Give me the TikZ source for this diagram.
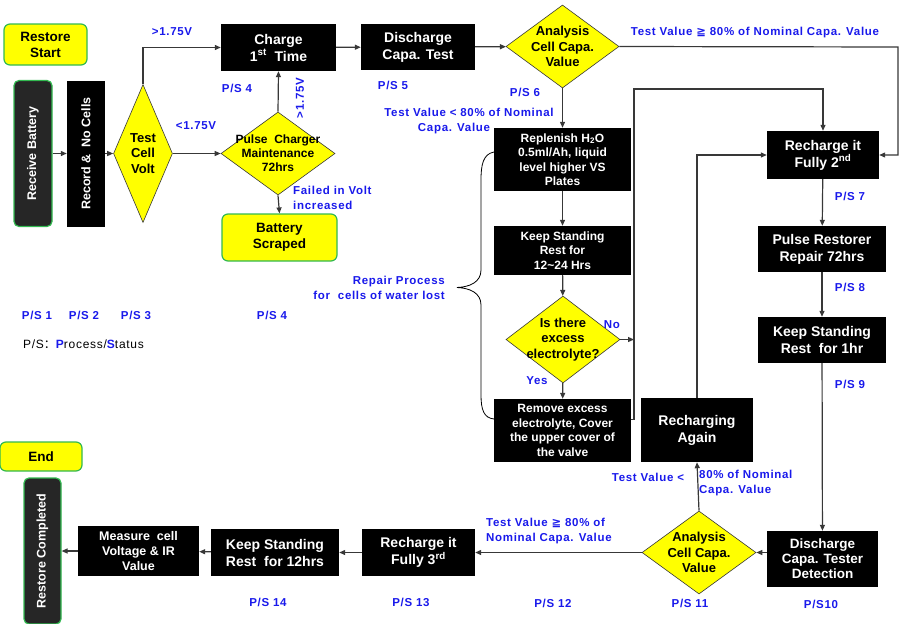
\documentclass[tikz,border=0pt]{standalone}
\usepackage{fontspec}
\setmainfont{Liberation Sans}
\newfontfamily\symfont{DejaVu Sans}
\newfontfamily\cjkfont{Noto Sans CJK SC}
\newfontfamily\lblfont{Liberation Sans}[LetterSpace=6.0]
\usetikzlibrary{shapes, positioning, arrows.meta, calc}
\colorlet{drawColor}{black!78}
\definecolor{psBlue}{RGB}{25,25,235}
\definecolor{fYellow}{RGB}{255,255,0}
\definecolor{fGreen}{RGB}{50,185,80}
\tikzstyle{fProcess}=[rectangle, fill=black, text=white, align=center, inner sep=0pt,
font=\bfseries\fontsize{14}{17}\selectfont]
\tikzstyle{fSmall}=[font=\bfseries\fontsize{12}{14.5}\selectfont]
\tikzstyle{fStartEnd}=[rectangle, rounded corners=6pt, fill=fYellow, draw=fGreen, line width=1.2pt,
align=center, inner sep=0pt, font=\bfseries\fontsize{13.5}{16}\selectfont]
\tikzstyle{fTerminal}=[rectangle, rounded corners=5pt, fill=black!85, draw=fGreen, line width=1.2pt,
text=white, inner sep=0pt, font=\bfseries\fontsize{12.5}{15}\selectfont]
\tikzstyle{fDecision}=[diamond, fill=fYellow, draw=drawColor, line width=0.6pt, inner sep=0pt]
\tikzstyle{dText}=[align=center, inner sep=0pt, font=\bfseries\fontsize{13}{15.5}\selectfont]
\tikzstyle{fLabel}=[text=psBlue, inner sep=0pt, font=\lblfont\bfseries\fontsize{11.5}{15}\selectfont]
\tikzstyle{arrow}=[-{Triangle[length=6pt,width=5pt]}, line width=1.2pt, draw=drawColor]

\begin{document}
\begin{tikzpicture}[x=1pt, y=-1pt]
  \useasboundingbox (0,0) rectangle (900,624);
  % left column
  \node(start) [fStartEnd, minimum width=83pt, minimum height=41pt] at (45.5,44.5) {Restore\\Start};
  \node(receive) [fTerminal, rotate=90, minimum width=146pt, minimum height=38pt] at (33,153.5) {Receive Battery};
  \node(record) [fProcess, rotate=90, minimum width=146pt, minimum height=38pt,
    font=\bfseries\fontsize{12.5}{15}\selectfont] at (86,153.5) {Record \&\ \ No Cells};
  \node(test) [fDecision, minimum width=59pt, minimum height=138pt,
    label={[dText]center:Test\\Cell\\Volt}] at (143,153.5) {};
  \draw [arrow] (receive) -- (record);
  \draw [arrow] (record) -- (test);
  % top row
  \node(charge) [fProcess, minimum width=115pt, minimum height=47pt] at (278.5,47.5) {Charge\\1\textsuperscript{st}\ \ Time};
  \node(pulse) [fDecision, minimum width=114pt, minimum height=83pt,
    label={[dText, font=\bfseries\fontsize{12}{14}\selectfont]center:Pulse\ \ Charger\\Maintenance\\72hrs}] at (278,153.5) {};
  \node(scraped) [fStartEnd, minimum width=115pt, minimum height=47pt] at (279.5,237.5) {Battery\\Scraped};
  \node(discharge) [fProcess, minimum width=114pt, minimum height=46pt] at (418,47) {Discharge\\Capa. Test};
  \node(ana1) [fDecision, minimum width=113pt, minimum height=83pt,
    label={[dText]center:Analysis\\Cell Capa.\\Value}] at (562.5,46.5) {};
  \draw [arrow] (test.north) |- (charge.west);
  \draw [arrow] (test.east) -- (pulse.west);
  \draw [arrow] (pulse.north) -- (charge.south);
  \draw [arrow] (pulse.south) -- (scraped.north);
  \draw [arrow] (charge) -- (discharge);
  \draw [arrow] (discharge) -- (ana1);
  % right column
  \node(rec2) [fProcess, minimum width=112pt, minimum height=48pt] at (823,155) {Recharge it\\Fully 2\textsuperscript{nd}};
  \node(pulseR) [fProcess, minimum width=128pt, minimum height=46pt] at (822,249) {Pulse Restorer\\Repair 72hrs};
  \node(keep1) [fProcess, minimum width=128pt, minimum height=46pt] at (822,340) {Keep Standing\\Rest\ \ for 1hr};
  \node(again) [fProcess, minimum width=112pt, minimum height=64pt] at (697,430) {Recharging\\Again};
  \node(dis2) [fProcess, minimum width=111pt, minimum height=56pt,
    font=\bfseries\fontsize{13.5}{15}\selectfont] at (822.5,559) {Discharge\\Capa. Tester\\Detection};
  \node(ana2) [fDecision, minimum width=114pt, minimum height=83pt,
    label={[dText]center:Analysis\\Cell Capa.\\Value}] at (699,552.5) {};
  \coordinate(loopB) at (898,47);
  \draw [arrow] (ana1.east) -- (loopB) |- (rec2.east);
  \draw [arrow] (again.north) |- (rec2.west);
  \draw [arrow] (rec2) -- (pulseR);
  \draw [arrow] (pulseR) -- (keep1);
  \draw [arrow] (keep1) -- (dis2);
  \draw [arrow] (dis2.west |- ana2.east) -- (ana2.east);
  \draw [arrow] (ana2.north) -- (again.south);
  % repair process for water lost
  \node(rep) [fProcess, fSmall, minimum width=137pt, minimum height=63pt] at (562.5,159.5)
    {Replenish H\textsubscript{2}O\\0.5ml/Ah, liquid\\level higher VS\\Plates};
  \node(stand) [fProcess, fSmall, minimum width=137pt, minimum height=49pt] at (562.5,250.5)
    {Keep Standing\\Rest for\\12\textasciitilde24 Hrs};
  \node(excess) [fDecision, minimum width=114pt, minimum height=87pt,
    label={[dText]center:Is there\\excess\\electrolyte?}] at (563,339.5) {};
  \node(rem) [fProcess, fSmall, minimum width=137pt, minimum height=63pt] at (562.5,430.5)
    {Remove excess\\electrolyte, Cover\\the upper cover of\\the valve};
  \draw [arrow] (ana1.south) -- (rep.north);
  \draw [arrow] (rep) -- (stand);
  \draw [arrow] (stand) -- (excess);
  \draw [arrow] (excess) -- (rem);
  \coordinate(loopA) at (634,89);
  \draw [arrow] (excess.east) -- (excess.east -| loopA);
  \draw [arrow] ([yshift=11pt]rem.east) -| (loopA) -| (rec2.north);
  \draw [line width=0.8pt] (494,152) .. controls (483,154) and (481,165) .. (481,180) -- (481,270)
    .. controls (481,282) and (470,287) .. (457,287.5) .. controls (470,288) and (481,293) .. (481,305)
    -- (481,395) .. controls (481,410) and (484,418) .. (494,419);
  % bottom row
  \node(rec3) [fProcess, minimum width=113pt, minimum height=47pt] at (418.5,552.5) {Recharge it\\Fully 3\textsuperscript{rd}};
  \node(keep12) [fProcess, minimum width=128pt, minimum height=47pt] at (275,552.5) {Keep Standing\\Rest\ \ for 12hrs};
  \node(meas) [fProcess, minimum width=121pt, minimum height=50pt,
    font=\bfseries\fontsize{12.5}{15}\selectfont] at (138.5,551) {Measure\ \ cell\\Voltage \& IR\\Value};
  \node(done) [fTerminal, rotate=90, minimum width=146pt, minimum height=37pt] at (42.5,551) {Restore Completed};
  \node(endN) [fStartEnd, minimum width=82pt, minimum height=29pt] at (41,456.5) {End};
  \draw [arrow] (ana2.west) -- (rec3.east);
  \draw [arrow] (rec3) -- (keep12);
  \draw [arrow] (keep12) -- (meas);
  \draw [arrow] (meas) -- (done);
  % labels
  \node(vHigh) [fLabel] at (172,32) {>1.75V};
  \node(vLow) [fLabel] at (196,126) {<1.75V};
  \node(vHigh2) [fLabel, rotate=90] at (300,98) {>1.75V};
  \node(failed) [fLabel, align=left, anchor=west] at (293,197.5) {Failed in Volt\\increased};
  \node(psA4) [fLabel] at (237,88) {P/S 4};
  \node(ps5) [fLabel] at (393,85) {P/S 5};
  \node(ps6) [fLabel] at (525,92) {P/S 6};
  \node(hiTop) [fLabel] at (755,33) {Test Value {\symfont ≧} 80\% of Nominal Capa. Value};
  \node(loTop) [fLabel, align=center] at (469,121) {Test Value < 80\% of Nominal\\Capa. Value\hspace*{30pt}};
  \node(repair) [fLabel, align=right, anchor=east] at (445,288) {Repair Process\\for\ \ cells of water lost};
  \node(no) [fLabel] at (612,325) {No};
  \node(yes) [fLabel] at (537,381) {Yes};
  \node(ps7) [fLabel] at (850,196) {P/S 7};
  \node(ps8) [fLabel] at (850,287) {P/S 8};
  \node(ps9) [fLabel] at (850,384) {P/S 9};
  \node(loBot1) [fLabel] at (648,477) {Test Value <};
  \node(loBot2) [fLabel, align=left, anchor=west] at (699,483.5) {80\% of Nominal\\Capa. Value};
  \node(hiBot) [fLabel, align=left, anchor=west] at (486,531.5) {Test Value {\symfont ≧} 80\% of\\Nominal Capa. Value};
  \node(ps10) [fLabel] at (821,604) {P/S10};
  \node(ps11) [fLabel] at (690,603) {P/S 11};
  \node(ps12) [fLabel] at (553,603) {P/S 12};
  \node(ps13) [fLabel] at (411,602) {P/S 13};
  \node(ps14) [fLabel] at (268,602) {P/S 14};
  \node(ps1) [fLabel] at (37,315) {P/S 1};
  \node(ps2) [fLabel] at (84,315) {P/S 2};
  \node(ps3) [fLabel] at (136,315) {P/S 3};
  \node(ps4) [fLabel] at (272,315) {P/S 4};
  \node(legend) [anchor=west, inner sep=0pt, font=\lblfont\fontsize{12}{14}\selectfont] at (23,344)
    {P/S{\cjkfont ：}{\color{psBlue}\bfseries P}rocess/{\color{psBlue}\bfseries S}tatus};
\end{tikzpicture}
\end{document}
